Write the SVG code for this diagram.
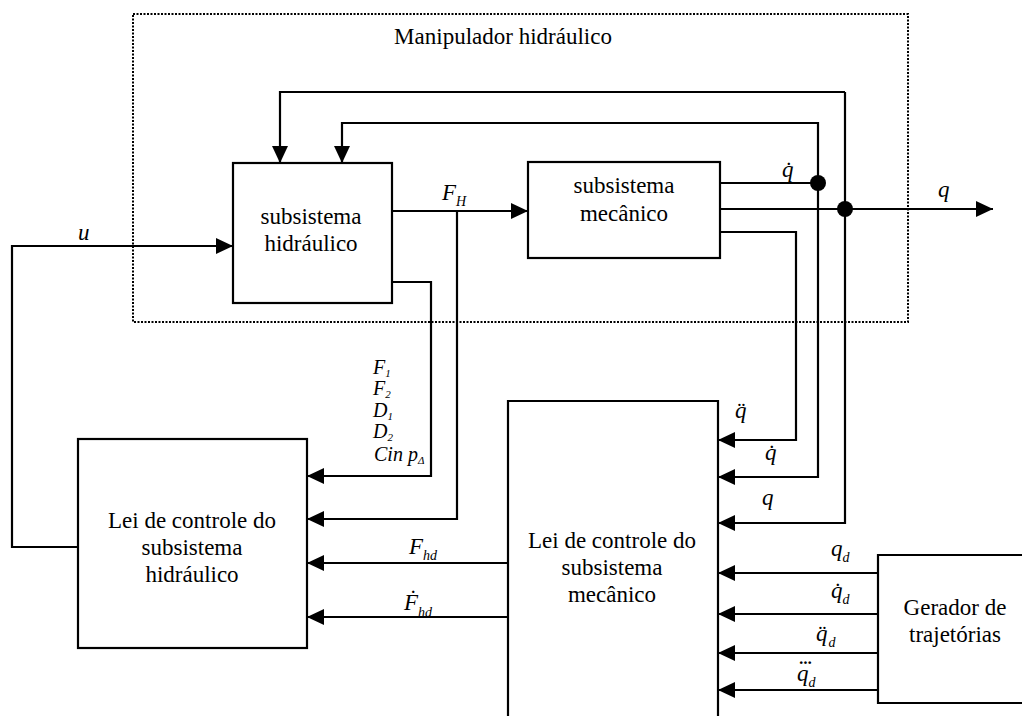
<svg xmlns="http://www.w3.org/2000/svg" width="1022" height="716" viewBox="0 0 1022 716">
<style>
.box{fill:#fff;stroke:#000;stroke-width:2.2}
.ln{fill:none;stroke:#000;stroke-width:2.2}
text{font-family:"Liberation Serif","Times New Roman",Times,serif;fill:#000}
.t{font-size:23px;font-style:normal;text-anchor:middle}
.m{font-style:italic;font-size:23px}
.s{font-size:14px}
.f{font-style:italic;font-size:20px}
.fs{font-size:11px}
</style>
<defs>
<marker id="ah" viewBox="0 0 17 16" markerWidth="17" markerHeight="16" refX="17" refY="8" orient="auto" markerUnits="userSpaceOnUse">
<path d="M0,0 L17,8 L0,16 z" fill="#000"/>
</marker>
</defs>
<rect width="1022" height="716" fill="#fff"/>

<g id="manipulador">
<rect x="133" y="14" width="775" height="308" fill="none" stroke="#000" stroke-width="2" stroke-dasharray="2 1.5"/>
<text class="t" x="503" y="44">Manipulador  hidráulico</text>
</g>

<g id="connectors">
<path class="ln" d="M78,547 H12 V246 H233" marker-end="url(#ah)"/>
<path class="ln" d="M845,92 H280 V163" marker-end="url(#ah)"/>
<path class="ln" d="M845,92 V523 H718" marker-end="url(#ah)"/>
<path class="ln" d="M720,183 H818 V123 H342 V163" marker-end="url(#ah)"/>
<path class="ln" d="M818,183 V477 H718" marker-end="url(#ah)"/>
<path class="ln" d="M720,232 H796 V440 H718" marker-end="url(#ah)"/>
<path class="ln" d="M720,209 H993" marker-end="url(#ah)"/>
<path class="ln" d="M392,211 H528" marker-end="url(#ah)"/>
<path class="ln" d="M457,211 V519 H307" marker-end="url(#ah)"/>
<path class="ln" d="M392,282 H431 V476 H307" marker-end="url(#ah)"/>
<path class="ln" d="M508,563 H307" marker-end="url(#ah)"/>
<path class="ln" d="M508,617 H307" marker-end="url(#ah)"/>
<path class="ln" d="M878,573 H718" marker-end="url(#ah)"/>
<path class="ln" d="M878,614 H718" marker-end="url(#ah)"/>
<path class="ln" d="M878,653 H718" marker-end="url(#ah)"/>
<path class="ln" d="M878,690 H718" marker-end="url(#ah)"/>
<circle cx="818" cy="183" r="8" fill="#000"/>
<circle cx="845" cy="209" r="8" fill="#000"/>
</g>

<g id="subsistema-hidraulico">
<rect class="box" x="233" y="163" width="159" height="140"/>
<text class="t" x="311" y="224">subsistema</text>
<text class="t" x="311" y="251">hidráulico</text>
</g>

<g id="subsistema-mecanico">
<rect class="box" x="528" y="162" width="192" height="96"/>
<text class="t" x="624" y="193">subsistema</text>
<text class="t" x="624" y="221">mecânico</text>
</g>

<g id="lei-hidraulico">
<rect class="box" x="78" y="439" width="229" height="209"/>
<text class="t" x="192" y="528">Lei de controle do</text>
<text class="t" x="192" y="555">subsistema</text>
<text class="t" x="192" y="582">hidráulico</text>
</g>

<g id="lei-mecanico">
<path class="box" d="M508,720 V401 H718 V720"/>
<text class="t" x="612" y="548">Lei de controle do</text>
<text class="t" x="612" y="575">subsistema</text>
<text class="t" x="612" y="602">mecânico</text>
</g>

<g id="gerador">
<path class="box" d="M1030,555 H878 V703 H1030"/>
<text class="t" x="955" y="615">Gerador de</text>
<text class="t" x="955" y="642">trajetórias</text>
</g>

<g id="labels">
<text class="m" x="78" y="240">u</text>
<text class="m" x="442" y="200">F<tspan class="s" dy="6">H</tspan></text>
<text class="m" x="782" y="177">q&#x307;</text>
<text class="m" x="938" y="197">q</text>
<text class="f" x="373" y="374">F<tspan class="fs" dy="3">1</tspan></text>
<text class="f" x="373" y="395">F<tspan class="fs" dy="3">2</tspan></text>
<text class="f" x="373" y="417">D<tspan class="fs" dy="3">1</tspan></text>
<text class="f" x="373" y="438">D<tspan class="fs" dy="3">2</tspan></text>
<text class="f" x="374" y="461">Cin p<tspan class="fs" dy="3">Δ</tspan></text>
<text class="m" x="735" y="418">q&#x308;</text>
<text class="m" x="765" y="460">q&#x307;</text>
<text class="m" x="762" y="505">q</text>
<text class="m" x="409" y="554">F<tspan class="s" dy="6">hd</tspan></text>
<text class="m" x="404" y="610">F&#x307;<tspan class="s" dy="7">hd</tspan></text>
<text class="m" x="831" y="556" font-size="25">q<tspan class="s" dy="6">d</tspan></text>
<text class="m" x="831" y="598" font-size="25">q&#x307;<tspan class="s" dy="6">d</tspan></text>
<text class="m" x="816" y="641" font-size="25">q&#x308;<tspan class="s" dy="6" dx="1">d</tspan></text>
<text class="m" x="797" y="681" font-size="25">q<tspan class="s" dy="6">d</tspan></text>
<text class="m" x="798" y="670" font-size="18" letter-spacing="-1.5">···</text>
</g>
</svg>
